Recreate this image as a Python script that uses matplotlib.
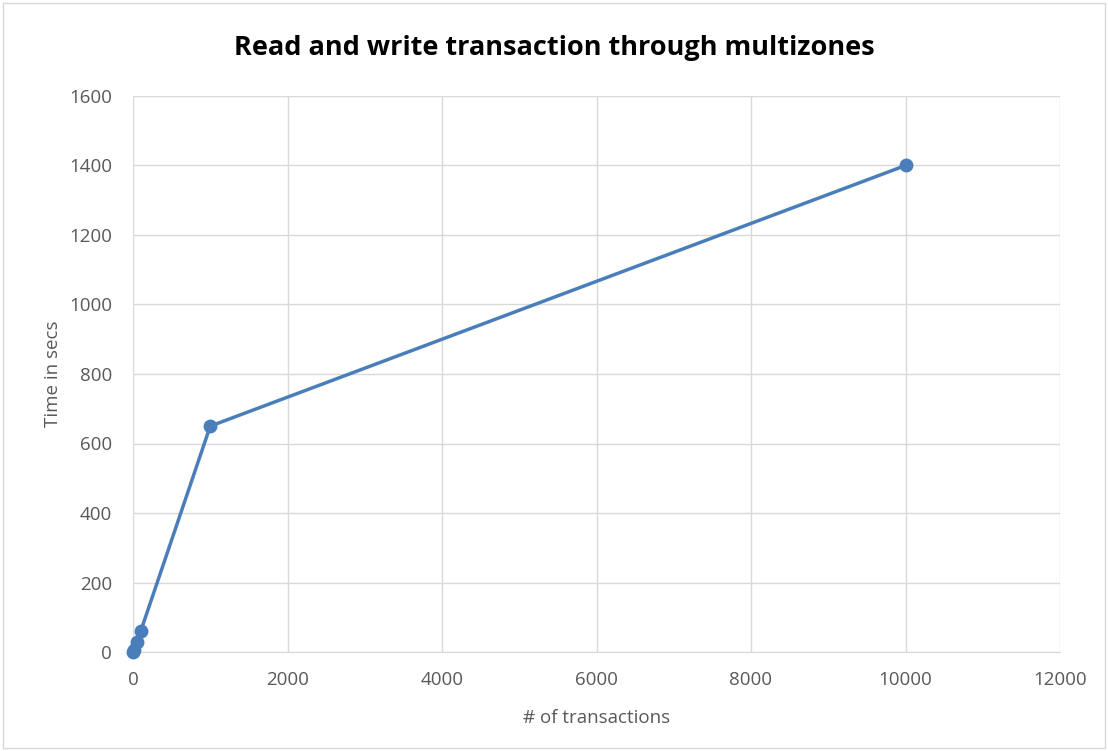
import matplotlib
matplotlib.use("Agg")
import matplotlib.pyplot as plt
from matplotlib.patches import Rectangle

transactions = [1, 10, 50, 100, 1000, 10000]
time_secs = [1, 5, 30, 60, 650, 1400]
x_ticks = [0, 2000, 4000, 6000, 8000, 10000, 12000]
y_ticks = [0, 200, 400, 600, 800, 1000, 1200, 1400, 1600]

plt.rcParams['font.family'] = ['Open Sans', 'DejaVu Sans']

fig = plt.figure(figsize=(11.08, 7.51), dpi=100)
ax = fig.add_axes([133/1108, 1-652/751, (1060-133)/1108, (652-96)/751])

ax.plot(transactions, time_secs, color='#4a7ebb', lw=2.5, marker='o', ms=9,
        markerfacecolor='#4a7ebb', markeredgecolor='#4a7ebb', zorder=3, clip_on=False)

ax.set_xlim(0, 12000)
ax.set_ylim(0, 1600)
ax.set_xticks(x_ticks)
ax.set_yticks(y_ticks)
ax.grid(True, color='#d9d9d9', lw=1)
ax.set_axisbelow(True)
for s in ['top', 'right', 'left']:
    ax.spines[s].set_visible(False)
ax.spines['bottom'].set_color('#d9d9d9')
ax.tick_params(length=0, labelsize=13.5, colors='#595959')
ax.tick_params(axis='y', pad=15)
ax.tick_params(axis='x', pad=14)
ax.set_xlabel('# of transactions', fontsize=13.5, color='#595959', labelpad=14)
ax.set_ylabel('Time in secs', fontsize=13.5, color='#595959', labelpad=5)
fig.text(0.5, 1-48/751, 'Read and write transaction through multizones',
         ha='center', va='center', fontsize=19.5, fontweight='bold', color='black')

fig.patches.append(Rectangle((3/1108, 3/751), 1-6/1108, 1-6/751, transform=fig.transFigure,
                             fill=False, edgecolor='#d9d9d9', lw=1))
fig.savefig('out.png', dpi=100)
